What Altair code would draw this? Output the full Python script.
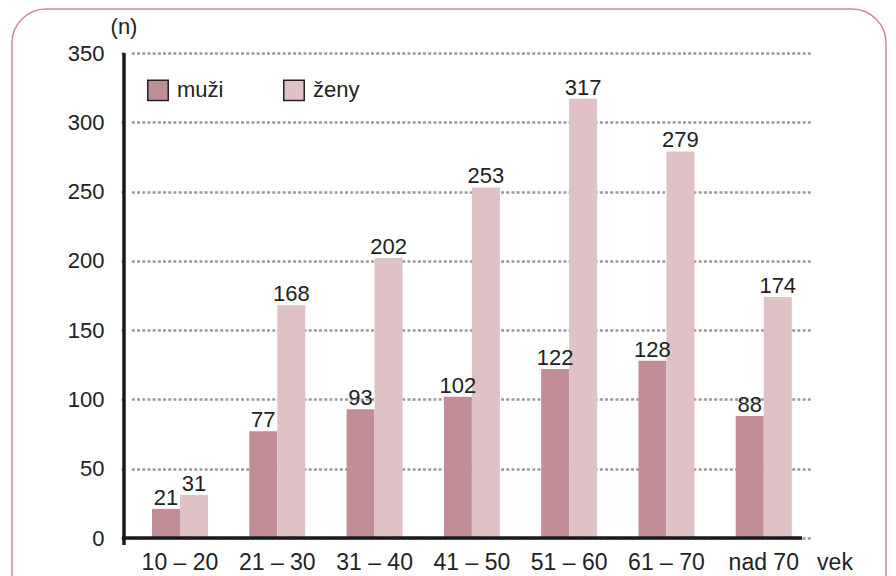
import altair as alt
import pandas as pd

categories = ["10 – 20", "21 – 30", "31 – 40", "41 – 50", "51 – 60", "61 – 70", "nad 70"]
muzi = [21, 77, 93, 102, 122, 128, 88]
zeny = [31, 168, 202, 253, 317, 279, 174]
series = ["muži", "ženy"]
colors = ["#c18e98", "#e0c1c6"]
y_ticks = [0, 50, 100, 150, 200, 250, 300, 350]

rows = []
for c, m, z in zip(categories, muzi, zeny):
    rows.append({"vek": c, "pohlavie": series[0], "n": m})
    rows.append({"vek": c, "pohlavie": series[1], "n": z})
df = pd.DataFrame(rows)

W, H = 678, 485
FONT = "Liberation Sans"
FS = 22

x = alt.X("vek:N", sort=categories, title=None,
          scale=alt.Scale(range=[7.35, 688.4], paddingInner=0.4245, paddingOuter=0.2122),
          axis=alt.Axis(domain=False, ticks=False, labelAngle=0, labelFontSize=23,
                        labelPadding=13, labelColor="#222", labelFont=FONT))
y = alt.Y("n:Q", title=None,
          scale=alt.Scale(domain=[0, 350], nice=False),
          axis=alt.Axis(values=y_ticks, domain=False, ticks=True, tickSize=5,
                        tickColor="#9a9a9a", tickDash=[3, 2.2], tickWidth=2.5,
                        grid=True, gridColor="#9a9a9a", gridDash=[3, 2.2], gridWidth=2.5,
                        labelFontSize=FS, labelPadding=15, labelColor="#222", labelFont=FONT))
xo = alt.XOffset("pohlavie:N", sort=series, scale=alt.Scale(paddingInner=0, paddingOuter=0))
color = alt.Color("pohlavie:N", sort=series,
                  scale=alt.Scale(domain=series, range=colors),
                  legend=alt.Legend(title=None, orient="none", legendX=23, legendY=26,
                                    direction="horizontal", columns=2, columnPadding=56,
                                    symbolType="square", symbolSize=420,
                                    symbolStrokeColor="#222", symbolStrokeWidth=1.5,
                                    symbolOpacity=1,
                                    labelFontSize=FS, labelFont=FONT, labelColor="#222",
                                    labelOffset=8))

base = alt.Chart(df)

bars = base.mark_bar(opacity=1).encode(x=x, xOffset=xo, y=y, color=color)
labels = base.mark_text(baseline="alphabetic", dy=-4, fontSize=FS, font=FONT, color="#222").encode(
    x=x, xOffset=xo, y=y, text="n:Q")

frame = alt.Chart(pd.DataFrame({"k": [0]})).mark_rect(
    fill=None, stroke="#c98b97", strokeWidth=1.5, cornerRadius=34, clip=False
).encode(x=alt.value(-112), x2=alt.value(762), y=alt.value(-44), y2=alt.value(560))

yaxis_line = alt.Chart(pd.DataFrame({"k": [0]})).mark_rule(color="#1a1a1a", strokeWidth=3.5).encode(
    x=alt.value(0), y=alt.value(0), y2=alt.value(492))
xaxis_line = alt.Chart(pd.DataFrame({"k": [0]})).mark_rule(color="#1a1a1a", strokeWidth=3.5).encode(
    y=alt.value(H), x=alt.value(-2), x2=alt.value(W))

n_label = alt.Chart(pd.DataFrame({"t": ["(n)"]})).mark_text(
    fontSize=FS, font=FONT, color="#222", align="center", baseline="alphabetic"
).encode(x=alt.value(0), y=alt.value(-19), text="t:N")
vek_label = alt.Chart(pd.DataFrame({"t": ["vek"]})).mark_text(
    fontSize=23, font=FONT, color="#222", align="center", baseline="alphabetic"
).encode(x=alt.value(711), y=alt.value(H + 32), text="t:N")

chart = alt.layer(frame, bars, labels, yaxis_line, xaxis_line, n_label, vek_label).properties(
    width=W, height=H,
    autosize=alt.AutoSizeParams(type="none"),
    padding={"left": 116, "top": 45, "right": 86, "bottom": 38},
).configure_view(stroke=None).configure_axis(labelFont=FONT)

chart.save("out.html", embed_options={"renderer": "svg", "actions": False})
